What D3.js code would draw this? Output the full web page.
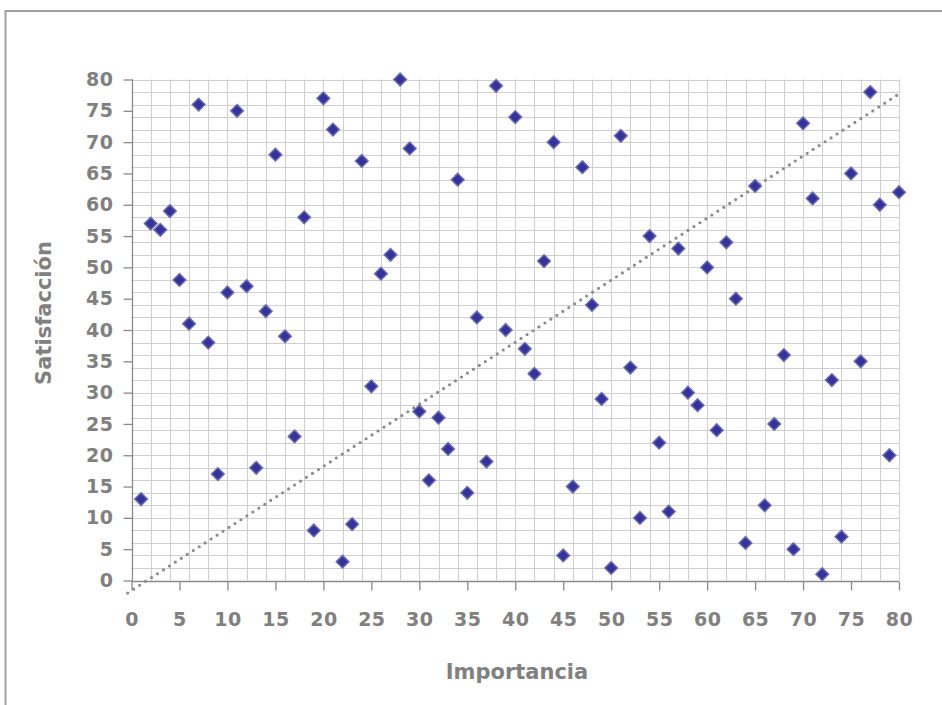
<!DOCTYPE html>
<html><head><meta charset="utf-8">
<script src="https://cdn.jsdelivr.net/npm/d3@7"></script>
<style>
html,body{margin:0;padding:0;background:#fff;}
svg{display:block;}
text{font-family:"DejaVu Sans",sans-serif;font-weight:bold;fill:#808080;}
</style></head>
<body>
<script>
const importancia = [1,2,3,4,5,6,7,8,9,10,11,12,13,14,15,16,17,18,19,20,21,22,23,24,25,26,27,28,29,30,31,32,33,34,35,36,37,38,39,40,41,42,43,44,45,46,47,48,49,50,51,52,53,54,55,56,57,58,59,60,61,62,63,64,65,66,67,68,69,70,71,72,73,74,75,76,77,78,79,80];
const satisfaccion = [13,57,56,59,48,41,76,38,17,46,75,47,18,43,68,39,23,58,8,77,72,3,9,67,31,49,52,80,69,27,16,26,21,64,14,42,19,79,40,74,37,33,51,70,4,15,66,44,29,2,71,34,10,55,22,11,53,30,28,50,24,54,45,6,63,12,25,36,5,73,61,1,32,7,65,35,78,60,20,62];
const xTicks = [0,5,10,15,20,25,30,35,40,45,50,55,60,65,70,75,80];
const yTicks = [0,5,10,15,20,25,30,35,40,45,50,55,60,65,70,75,80];
const gridStep = [0,2,4,6,8,10,12,14,16,18,20,22,24,26,28,30,32,34,36,38,40,42,44,46,48,50,52,54,56,58,60,62,64,66,68,70,72,74,76,78,80];
const trendX = [-0.4, 80];
const trendY = [-2, 77.7];
const xTitle = "Importancia";
const yTitle = "Satisfacción";

const W = 942, H = 705;
const svg = d3.select("body").append("svg").attr("width", W).attr("height", H);

// outer chart border
svg.append("rect").attr("x", 5.5).attr("y", 11).attr("width", 960).attr("height", 720)
  .attr("fill", "none").attr("stroke", "#a0a0a0").attr("stroke-width", 2);

const x = d3.scaleLinear().domain([0, 80]).range([131.5, 899]);
const y = d3.scaleLinear().domain([0, 80]).range([580.5, 79.5]);

const g = svg.append("g");

// gridlines
g.selectAll("line.vg").data(gridStep).join("line").attr("class", "vg")
  .attr("x1", d => Math.round(x(d)) + 0.5).attr("x2", d => Math.round(x(d)) + 0.5)
  .attr("y1", y(0)).attr("y2", y(80))
  .attr("stroke", "#cfcfcf").attr("stroke-width", 1);
g.selectAll("line.hg").data(gridStep).join("line").attr("class", "hg")
  .attr("y1", d => Math.round(y(d)) + 0.5).attr("y2", d => Math.round(y(d)) + 0.5)
  .attr("x1", x(0)).attr("x2", x(80))
  .attr("stroke", "#cfcfcf").attr("stroke-width", 1);

// axes
const xAxis = d3.axisBottom(x).tickValues(xTicks).tickSize(9).tickPadding(22).tickFormat(d3.format("d"));
const yAxis = d3.axisLeft(y).tickValues(yTicks).tickSize(9).tickPadding(10).tickFormat(d3.format("d"));

const gx = svg.append("g").attr("transform", `translate(0,${Math.round(y(0))+0.5})`).call(xAxis);
const gy = svg.append("g").attr("transform", `translate(${Math.round(x(0))+0.5},0)`).call(yAxis);
[gx, gy].forEach(a => {
  a.select(".domain").attr("stroke", "#8a8a8a").attr("stroke-width", 1.3);
  a.selectAll(".tick line").attr("stroke", "#8a8a8a").attr("stroke-width", 1.3);
  a.selectAll(".tick text").attr("fill", "#808080").style("font-size", "19px")
    .style("letter-spacing", "0.5px")
    .style("font-family", '"DejaVu Sans",sans-serif').style("font-weight", "bold");
});
gy.select(".domain").attr("d", `M0,${y(0)}V${y(80)}`);
gx.select(".domain").attr("d", `M${x(0)},0H${x(80)}`);

// trend (dotted) line
svg.append("line")
  .attr("x1", x(trendX[0])).attr("y1", y(trendY[0]))
  .attr("x2", x(trendX[1])).attr("y2", y(trendY[1]))
  .attr("stroke", "#8c8c8c").attr("stroke-width", 3.2)
  .attr("stroke-linecap", "round").attr("stroke-dasharray", "0,7.1");

// points
const sym = d3.symbol().type(d3.symbolSquare).size(80);
svg.append("g").selectAll("path").data(importancia).join("path")
  .attr("d", sym)
  .attr("transform", (d, i) => `translate(${x(d)},${y(satisfaccion[i])}) rotate(45)`)
  .attr("fill", "#333399").attr("stroke", "#6a6ab0").attr("stroke-width", 1.5);

// titles
svg.append("text").attr("x", 517).attr("y", 679).attr("text-anchor", "middle")
  .style("font-size", "21px").text(xTitle);
svg.append("text").attr("transform", "translate(51,313) rotate(-90)").attr("text-anchor", "middle")
  .style("font-size", "21px").text(yTitle);
</script>
</body></html>
